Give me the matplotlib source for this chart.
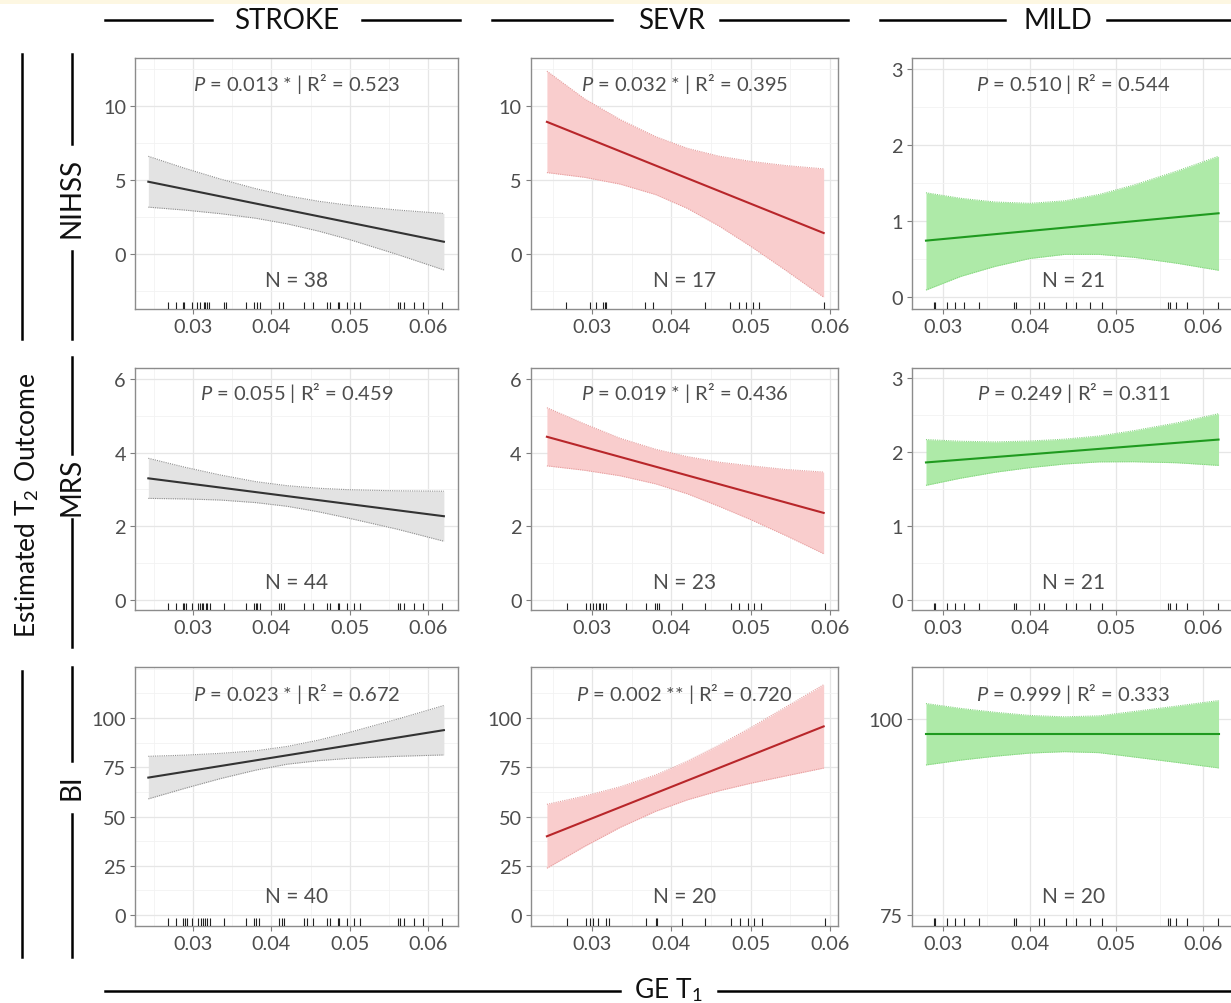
import matplotlib
matplotlib.use("Agg")
import matplotlib.pyplot as plt
from matplotlib.lines import Line2D
from matplotlib.patches import Rectangle
from matplotlib.ticker import FixedLocator, AutoMinorLocator

plt.rcParams['font.family'] = ['Lato', 'DejaVu Sans']
plt.rcParams['mathtext.fontset'] = 'custom'
plt.rcParams['mathtext.rm'] = 'Lato'
plt.rcParams['mathtext.it'] = 'Lato:italic'

# ---------------- data ----------------
groups = ["STROKE", "SEVR", "MILD"]
outcomes = ["NIHSS", "MRS", "BI"]

# fitted line end points (x) per group
fit_x_stroke = [0.0243, 0.0620]
fit_x_sevr = [0.02425, 0.05925]
fit_x_mild = [0.0280, 0.0618]

# x positions where the confidence band was read per group
band_x_stroke = [0.0243, 0.0290, 0.0335, 0.0380, 0.0420, 0.0460, 0.0500, 0.0560, 0.0620]
band_x_sevr = [0.02425, 0.0290, 0.0335, 0.0380, 0.0420, 0.0460, 0.0500, 0.0545, 0.05925]
band_x_mild = [0.0280, 0.0320, 0.0360, 0.0400, 0.0440, 0.0480, 0.0520, 0.0570, 0.0618]

# fitted line values (start, end)
fit_nihss_stroke = [4.89, 0.83]
fit_nihss_sevr = [8.94, 1.42]
fit_nihss_mild = [0.74, 1.10]
fit_mrs_stroke = [3.30, 2.27]
fit_mrs_sevr = [4.43, 2.36]
fit_mrs_mild = [1.86, 2.17]
fit_bi_stroke = [69.8, 93.9]
fit_bi_sevr = [40.0, 95.8]
fit_bi_mild = [98.05, 98.05]

# confidence bands (upper / lower)
up_nihss_stroke = [6.61, 5.79, 5.07, 4.42, 3.94, 3.57, 3.29, 2.98, 2.74]
lo_nihss_stroke = [3.17, 2.97, 2.73, 2.42, 2.04, 1.55, 0.97, -0.02, -1.08]
up_nihss_sevr = [12.37, 10.5, 9.1, 7.94, 7.15, 6.62, 6.27, 5.98, 5.76]
lo_nihss_sevr = [5.51, 5.19, 4.73, 4.02, 3.09, 1.90, 0.53, -1.12, -2.92]
up_nihss_mild = [1.37, 1.297, 1.248, 1.231, 1.263, 1.347, 1.471, 1.656, 1.85]
lo_nihss_mild = [0.09, 0.269, 0.402, 0.505, 0.559, 0.559, 0.521, 0.442, 0.35]

up_mrs_stroke = [3.845, 3.60, 3.39, 3.21, 3.10, 3.03, 2.99, 2.96, 2.95]
lo_mrs_stroke = [2.755, 2.74, 2.71, 2.64, 2.54, 2.39, 2.21, 1.92, 1.59]
up_mrs_sevr = [5.22, 4.78, 4.39, 4.09, 3.89, 3.74, 3.64, 3.54, 3.47]
lo_mrs_sevr = [3.64, 3.52, 3.37, 3.15, 2.88, 2.54, 2.18, 1.74, 1.25]
up_mrs_mild = [2.17, 2.147, 2.138, 2.15, 2.175, 2.218, 2.29, 2.396, 2.52]
lo_mrs_mild = [1.55, 1.647, 1.728, 1.79, 1.839, 1.868, 1.87, 1.856, 1.82]

up_bi_stroke = [80.6, 81.2, 82.1, 83.4, 85.6, 88.8, 92.8, 99.4, 106.4]
lo_bi_stroke = [59.0, 64.4, 69.3, 73.6, 76.6, 78.4, 79.6, 80.6, 81.3]
up_bi_sevr = [56.2, 60.4, 65.1, 71.1, 78.1, 86.2, 95.1, 105.7, 116.95]
lo_bi_sevr = [23.8, 34.85, 44.5, 52.7, 58.5, 63.1, 66.9, 70.7, 74.65]
up_bi_mild = [101.97, 101.35, 100.85, 100.45, 100.27, 100.4, 100.95, 101.65, 102.35]
lo_bi_mild = [94.13, 94.75, 95.25, 95.65, 95.83, 95.7, 95.15, 94.45, 93.75]

# rug (GE T1 of each subject)
rug_stroke_nihss = [0.02685, 0.02779, 0.02877, 0.02889, 0.02983, 0.03047, 0.03089,
                    0.0314, 0.03157, 0.03175, 0.03209, 0.03396, 0.03417, 0.03673,
                    0.03779, 0.03813, 0.03856, 0.04103, 0.04154, 0.04418, 0.04528,
                    0.04707, 0.0475, 0.04843, 0.0486, 0.04963, 0.05048, 0.05133,
                    0.05614, 0.05635, 0.05695, 0.05814, 0.05933, 0.06176]
rug_stroke_mrs = [0.02685, 0.02779, 0.02868, 0.02889, 0.02911, 0.02983, 0.03068,
                  0.03089, 0.0311, 0.03132, 0.03166, 0.03183, 0.03217, 0.03396,
                  0.03673, 0.03779, 0.03805, 0.03822, 0.03856, 0.04103, 0.04124,
                  0.04163, 0.04418, 0.04528, 0.04707, 0.04741, 0.04843, 0.0486,
                  0.04963, 0.05048, 0.05133, 0.05614, 0.05635, 0.05695, 0.05814,
                  0.05933, 0.06176]
rug_stroke_bi = [0.02685, 0.02779, 0.02877, 0.02898, 0.02919, 0.02983, 0.03068,
                 0.03102, 0.03132, 0.03157, 0.03175, 0.03217, 0.03396, 0.03673,
                 0.03779, 0.03805, 0.03847, 0.04103, 0.04133, 0.04163, 0.04418,
                 0.04460, 0.04528, 0.04707, 0.0475, 0.04843, 0.0486, 0.04963,
                 0.05048, 0.05133, 0.05614, 0.05635, 0.05695, 0.05814, 0.05933,
                 0.06176]
rug_sevr_nihss = [0.02667, 0.02967, 0.0305, 0.03133, 0.03154, 0.03175, 0.03663,
                  0.03771, 0.04425, 0.04746, 0.0485, 0.04946, 0.05029, 0.05113,
                  0.05925]
rug_sevr_mrs = [0.02683, 0.02917, 0.02967, 0.03008, 0.0305, 0.03083, 0.0310,
                0.03133, 0.03175, 0.03425, 0.03675, 0.03788, 0.03813, 0.03842,
                0.04133, 0.04425, 0.0475, 0.04854, 0.04966, 0.0505, 0.05133,
                0.05938]
rug_sevr_bi = [0.02683, 0.02917, 0.02975, 0.03008, 0.03071, 0.03175, 0.03208,
               0.03675, 0.038, 0.03821, 0.04133, 0.04425, 0.0475, 0.04862,
               0.04966, 0.0505, 0.05142, 0.05938]
rug_mild = [0.02893, 0.02908, 0.03046, 0.03135, 0.03238, 0.03412, 0.03815,
            0.03838, 0.04107, 0.04161, 0.04415, 0.04538, 0.04692, 0.04838,
            0.05595, 0.05614, 0.05683, 0.05814, 0.06172]

p_labels = [["0.013 *", "0.032 *", "0.510"],
            ["0.055", "0.019 *", "0.249"],
            ["0.023 *", "0.002 **", "0.999"]]
r2_labels = [["0.523", "0.395", "0.544"],
             ["0.459", "0.436", "0.311"],
             ["0.672", "0.720", "0.333"]]
n_labels = [[38, 17, 21], [44, 23, 21], [40, 20, 20]]

x_ticks = [0.03, 0.04, 0.05, 0.06]
y_ticks_rows = [[0, 5, 10], [0, 2, 4, 6], [0, 25, 50, 75, 100]]
y_ticks_mild = [[0, 1, 2, 3], [0, 1, 2, 3], [75, 100]]

# ---------------- assembling ----------------
fit_x = [fit_x_stroke, fit_x_sevr, fit_x_mild]
band_x = [band_x_stroke, band_x_sevr, band_x_mild]
fits = [[fit_nihss_stroke, fit_nihss_sevr, fit_nihss_mild],
        [fit_mrs_stroke, fit_mrs_sevr, fit_mrs_mild],
        [fit_bi_stroke, fit_bi_sevr, fit_bi_mild]]
ups = [[up_nihss_stroke, up_nihss_sevr, up_nihss_mild],
       [up_mrs_stroke, up_mrs_sevr, up_mrs_mild],
       [up_bi_stroke, up_bi_sevr, up_bi_mild]]
los = [[lo_nihss_stroke, lo_nihss_sevr, lo_nihss_mild],
       [lo_mrs_stroke, lo_mrs_sevr, lo_mrs_mild],
       [lo_bi_stroke, lo_bi_sevr, lo_bi_mild]]
rugs = [[rug_stroke_nihss, rug_sevr_nihss, rug_mild],
        [rug_stroke_mrs, rug_sevr_mrs, rug_mild],
        [rug_stroke_bi, rug_sevr_bi, rug_mild]]

# styles
line_cols = ["#333333", "#b8262a", "#1f9a1f"]
fill_cols = ["#e3e3e3", "#f9cdcd", "#aeeaa8"]
edge_cols = ["#8f8f8f", "#e6a0a0", "#86d680"]
xlims = [(0.0226, 0.0638), (0.0222, 0.0611), (0.02635, 0.0637)]
ylims = [[(-3.72, 13.24), (-3.72, 13.24), (-0.16, 3.14)],
         [(-0.28, 6.3), (-0.28, 6.3), (-0.14, 3.14)],
         [(-5.4, 125.8), (-5.4, 125.8), (73.6, 106.6)]]

W, H = 1231, 1004
fig = plt.figure(figsize=(W / 100, H / 100), dpi=100)
fig.patch.set_facecolor("white")

def fx(px):
    return px / W

def fy(py):
    return 1 - py / H

col_px = [(135, 458), (530.7, 838.3), (911.7, 1235)]
row_px = [(59.3, 310), (369, 611), (668.3, 926.7)]

text_col = "#4d4d4d"
for r in range(3):
    for c in range(3):
        x0, x1 = col_px[c]
        y0, y1 = row_px[r]
        ax = fig.add_axes([fx(x0), fy(y1), (x1 - x0) / W, (y1 - y0) / H])
        ax.set_facecolor("white")
        bx = band_x[c]
        ax.fill_between(bx, los[r][c], ups[r][c], color=fill_cols[c], lw=0, zorder=2)
        ax.plot(bx, ups[r][c], ls=(0, (1, 1)), color=edge_cols[c], lw=0.8, zorder=3)
        ax.plot(bx, los[r][c], ls=(0, (1, 1)), color=edge_cols[c], lw=0.8, zorder=3)
        ax.plot(fit_x[c], fits[r][c], color=line_cols[c], lw=1.5, zorder=4)
        ax.vlines(rugs[r][c], 0, 0.028, transform=ax.get_xaxis_transform(),
                  color="#222222", lw=0.8, zorder=5)
        ax.set_xlim(*xlims[c])
        ax.set_ylim(*ylims[r][c])
        ax.xaxis.set_major_locator(FixedLocator(x_ticks))
        ax.set_xticklabels([f"{t:.2f}" for t in x_ticks])
        yt = y_ticks_mild[r] if c == 2 else y_ticks_rows[r]
        ax.yaxis.set_major_locator(FixedLocator(yt))
        ax.set_yticklabels([str(t) for t in yt])
        ax.xaxis.set_minor_locator(AutoMinorLocator(2))
        ax.yaxis.set_minor_locator(AutoMinorLocator(2))
        ax.grid(which="major", color="#e6e6e6", lw=0.9, zorder=0)
        ax.grid(which="minor", color="#f2f2f2", lw=0.6, zorder=0)
        ax.set_axisbelow(True)
        ax.tick_params(which="major", length=3.5, width=0.8, color="#7f7f7f",
                       labelsize=14.3, labelcolor=text_col, pad=3)
        ax.tick_params(which="minor", length=0)
        for s in ax.spines.values():
            s.set_color("#8c8c8c")
            s.set_linewidth(1.0)
        ax.text(0.5, 0.90, r"$\it{P}$" + f" = {p_labels[r][c]} | R² = {r2_labels[r][c]}",
                transform=ax.transAxes, ha="center", va="center",
                fontsize=14.5, color=text_col, zorder=6)
        ax.text(0.5, 0.115, f"N = {n_labels[r][c]}", transform=ax.transAxes,
                ha="center", va="center", fontsize=15, color=text_col, zorder=6)

# cream band at top
fig.add_artist(Rectangle((0, fy(5)), 1, 5 / H, transform=fig.transFigure,
                         color="#fdf7e2", lw=0, zorder=0))

def hline(x0, x1, y):
    fig.add_artist(Line2D([fx(x0), fx(x1)], [fy(y), fy(y)], color="black", lw=1.8))

def vline(x, y0, y1):
    fig.add_artist(Line2D([fx(x), fx(x)], [fy(y0), fy(y1)], color="black", lw=1.8))

# column strips
strip_px = [(105, 212, 287, 362, 460), (492, 612, 672, 720, 848), (880, 1005, 1058, 1107, 1231)]
for g, (a0, a1, cx, b0, b1) in zip(groups, strip_px):
    hline(a0, a1, 21)
    hline(b0, b1, 21)
    fig.text(fx(cx), fy(21), g, ha="center", va="center", fontsize=20, color="#111111")

# row strips
rstrip_px = [(55, 145, 198, 252, 340), (358, 455, 487, 520, 648), (668, 762, 787, 815, 958)]
for o, (a0, a1, cy, b0, b1) in zip(outcomes, rstrip_px):
    vline(72, a0, a1)
    vline(72, b0, b1)
    fig.text(fx(72), fy(cy), o, ha="center", va="center", rotation=90,
             fontsize=20, color="#111111")

# outer y label
vline(22, 55, 340)
vline(22, 672, 958)
fig.text(fx(27), fy(505), r"Estimated T$_2$ Outcome", ha="center", va="center",
         rotation=90, fontsize=19, color="#111111")

# outer x label
hline(105, 620, 992)
hline(718, 1231, 992)
fig.text(fx(668), fy(990), r"GE T$_1$", ha="center", va="center", fontsize=19,
         color="#111111")

fig.savefig("out.png", dpi=100)
